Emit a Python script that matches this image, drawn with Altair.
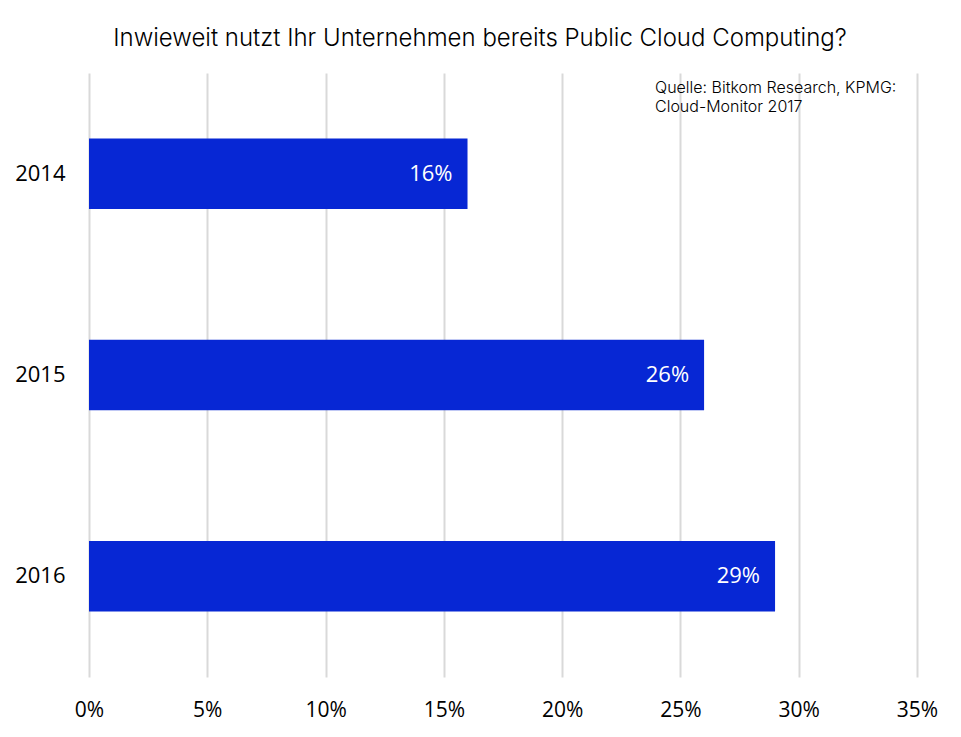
import altair as alt
import pandas as pd

years = ["2014", "2015", "2016"]
values = [16, 26, 29]
labels = ["16%", "26%", "29%"]
source_lines = ["Quelle: Bitkom Research, KPMG:", "Cloud-Monitor 2017"]

df = pd.DataFrame({"year": years, "value": values, "label": labels})

xscale = alt.Scale(domain=[0, 35], nice=False, zero=True)
yscale = alt.Scale(domain=years, paddingInner=0.65, paddingOuter=0.325)

base = alt.Chart(df)

bars = base.mark_bar(color="#0727d4").encode(
    x=alt.X("value:Q", scale=xscale,
            axis=alt.Axis(values=[0, 5, 10, 15, 20, 25, 30, 35], labelExpr="datum.value + '%'",
                          title=None, grid=True, gridColor="#d9d9d9", gridWidth=2,
                          domain=False, ticks=False, labelFontSize=21, labelFont="Open Sans",
                          labelColor="#000000", labelPadding=22, labelFlush=False,
                          labelOverlap=False)),
    y=alt.Y("year:N", scale=yscale,
            axis=alt.Axis(title=None, domain=False, ticks=False, grid=False, labelFontSize=22,
                          labelFont="Open Sans", labelColor="#000000", labelPadding=24)),
)

text = base.mark_text(align="right", baseline="middle", dx=-15, color="white",
                      fontSize=22, font="Open Sans").encode(
    x=alt.X("value:Q", scale=xscale),
    y=alt.Y("year:N", scale=yscale),
    text="label:N",
)

src_layers = []
for line, ypos in zip(source_lines, [15, 34]):
    src_layers.append(
        alt.Chart(pd.DataFrame({"line": [line]})).mark_text(
            align="left", baseline="middle", fontSize=16, font="Inter", fontWeight=300,
            color="#000000").encode(x=alt.value(566), y=alt.value(ypos), text="line:N")
    )

chart = alt.layer(bars, text, *src_layers).properties(
    width=828, height=604,
    padding={"left": 81, "top": 65, "right": 36, "bottom": 46},
    autosize=alt.AutoSizeParams(type="none"),
    title=alt.TitleParams("Inwieweit nutzt Ihr Unternehmen bereits Public Cloud Computing?",
                          font="Inter", fontSize=24, fontWeight=300, color="#000000",
                          anchor="middle", dx=-23, offset=22),
).configure_view(stroke=None)

chart.save("out.html", embed_options={"renderer": "svg", "actions": False})
